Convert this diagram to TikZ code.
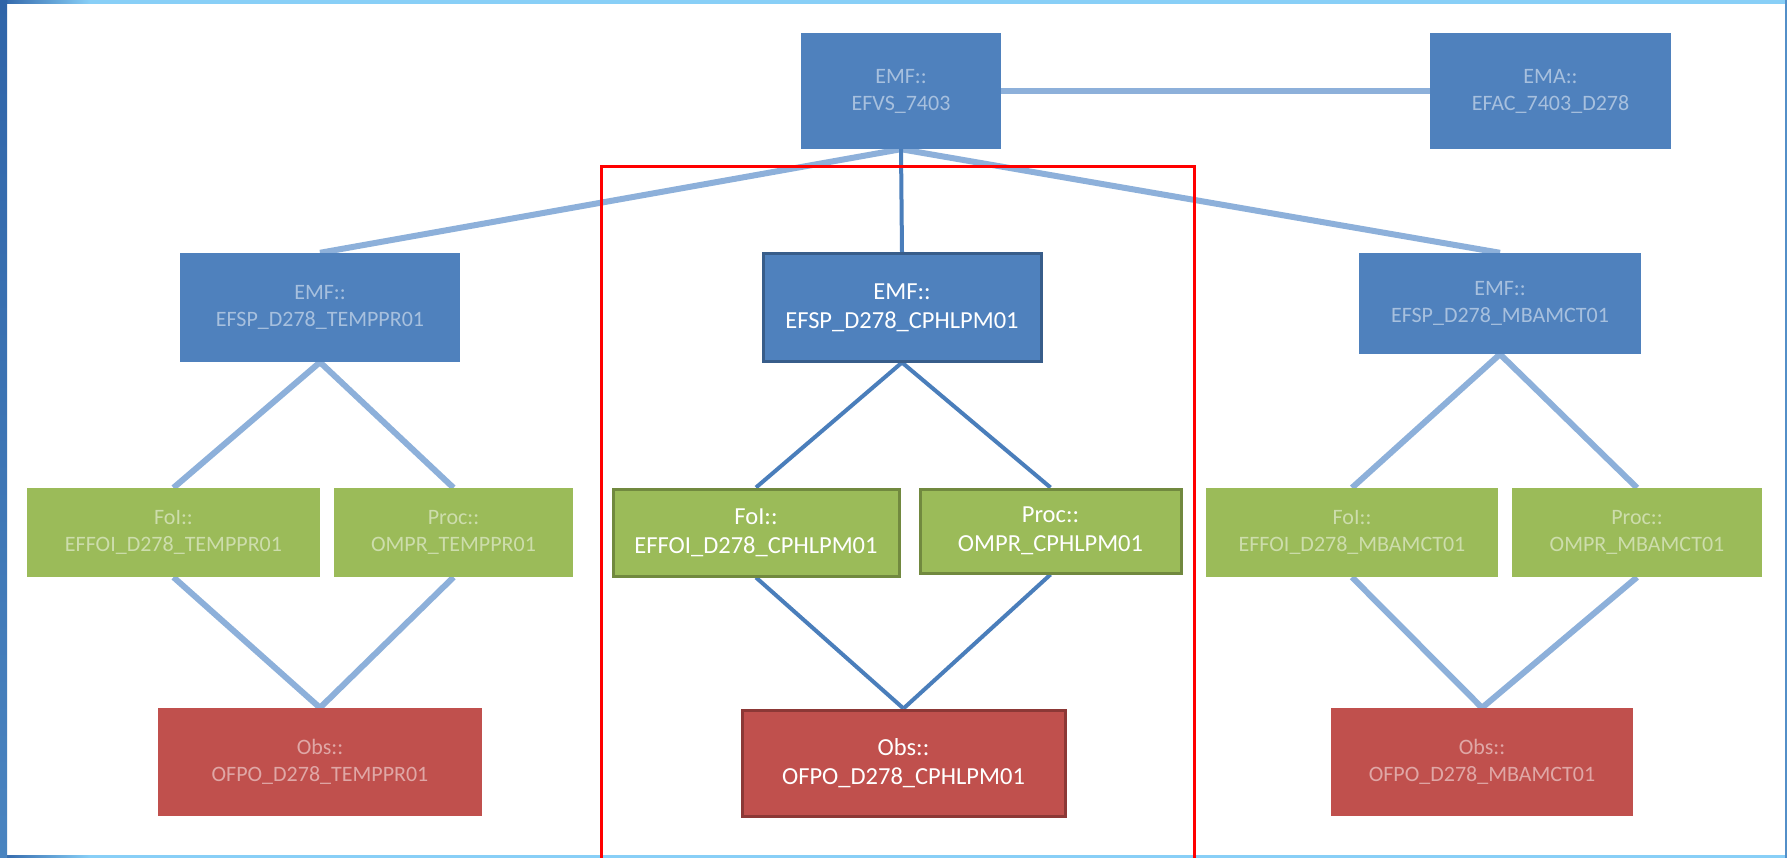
\documentclass[tikz,border=0pt]{standalone}
\usepackage{fontspec}
\setmainfont{Carlito}
\pgfdeclarelayer{frame}
\pgfdeclarelayer{lines}
\pgfsetlayers{frame,lines,main}
\definecolor{bxblue}{HTML}{4F81BD}
\definecolor{bxblueD}{HTML}{385D8A}
\definecolor{bxgreen}{HTML}{9BBB59}
\definecolor{bxgreenD}{HTML}{71893F}
\definecolor{bxred}{HTML}{C0504D}
\definecolor{bxredD}{HTML}{8C3836}
\definecolor{lnblue}{HTML}{4A7EBB}
\definecolor{lnblur}{HTML}{8DB0DA}
\definecolor{frdark}{HTML}{2F64A8}
\definecolor{frlight}{HTML}{88CFF7}
\tikzset{
  box/.style={rectangle, inner sep=0pt, align=center, text=white,
    font=\fontsize{24.5}{29}\selectfont},
  sharp/.style={box, line width=3pt},
  blurbox/.style={box, text opacity=0.5, font=\fontsize{22}{27}\selectfont},
  conn/.style={draw=lnblue, line width=4pt},
  blurconn/.style={draw=lnblur, line width=6pt},
}
\begin{document}
\begin{tikzpicture}[x=1pt,y=-1pt]
\useasboundingbox (0,0) rectangle (1787,858);
\begin{pgfonlayer}{frame}
  \fill[white] (0,0) rectangle (1787,858);
  \fill[frlight] (0,0) rectangle (1787,4);
  \fill[frlight] (0,855) rectangle (1787,858);
  \shade[left color=frdark, right color=frlight] (0,0) rectangle (90,4);
  \shade[left color=frdark, right color=frlight] (0,855) rectangle (90,858);
  \shade[top color=frdark, bottom color=frdark!70!frlight] (0,0) rectangle (7,858);
  \fill[frdark!60!frlight] (1785,0) rectangle (1787,858);
\end{pgfonlayer}

% blurred top level
\node[blurbox, fill=bxblue, minimum width=200, minimum height=116] (top) at (901,91) {EMF::\\EFVS\_7403};
\node[blurbox, fill=bxblue, minimum width=241, minimum height=116] (ema) at (1550.5,91) {EMA::\\EFAC\_7403\_D278};

% left blurred branch
\node[blurbox, fill=bxblue, minimum width=280, minimum height=109] (lemf) at (320,307.5) {EMF::\\EFSP\_D278\_TEMPPR01};
\node[blurbox, fill=bxgreen, minimum width=293, minimum height=89] (lfoi) at (173.5,532.5) {FoI::\\EFFOI\_D278\_TEMPPR01};
\node[blurbox, fill=bxgreen, minimum width=239, minimum height=89] (lproc) at (453.5,532.5) {Proc::\\OMPR\_TEMPPR01};
\node[blurbox, fill=bxred, minimum width=324, minimum height=108] (lobs) at (320,762) {Obs::\\OFPO\_D278\_TEMPPR01};

% right blurred branch
\node[blurbox, fill=bxblue, minimum width=282, minimum height=101] (remf) at (1500,303.5) {EMF::\\EFSP\_D278\_MBAMCT01};
\node[blurbox, fill=bxgreen, minimum width=292, minimum height=89] (rfoi) at (1352,532.5) {FoI::\\EFFOI\_D278\_MBAMCT01};
\node[blurbox, fill=bxgreen, minimum width=250, minimum height=89] (rproc) at (1637,532.5) {Proc::\\OMPR\_MBAMCT01};
\node[blurbox, fill=bxred, minimum width=302, minimum height=108] (robs) at (1482,762) {Obs::\\OFPO\_D278\_MBAMCT01};

% sharp center branch
\node[sharp, fill=bxblue, draw=bxblueD, minimum width=278, minimum height=107] (cemf) at (902,307.5) {EMF::\\EFSP\_D278\_CPHLPM01};
\node[sharp, fill=bxgreen, draw=bxgreenD, minimum width=286, minimum height=87] (cfoi) at (756,532.5) {FoI::\\EFFOI\_D278\_CPHLPM01};
\node[sharp, fill=bxgreen, draw=bxgreenD, minimum width=261, minimum height=84] (cproc) at (1050.5,531) {Proc::\\OMPR\_CPHLPM01};
\node[sharp, fill=bxred, draw=bxredD, minimum width=323, minimum height=106] (cobs) at (903.5,763) {Obs::\\OFPO\_D278\_CPHLPM01};

\begin{pgfonlayer}{lines}
  \draw[blurconn] (top.east) -- (ema.west);
  \draw[blurconn] (top.south) -- (lemf.north);
  \draw[blurconn] (top.south) -- (remf.north);
  \draw[blurconn] (lemf.south) -- (lfoi.north);
  \draw[blurconn] (lemf.south) -- (lproc.north);
  \draw[blurconn] (lfoi.south) -- (lobs.north);
  \draw[blurconn] (lproc.south) -- (lobs.north);
  \draw[blurconn] (remf.south) -- (rfoi.north);
  \draw[blurconn] (remf.south) -- (rproc.north);
  \draw[blurconn] (rfoi.south) -- (robs.north);
  \draw[blurconn] (rproc.south) -- (robs.north);
  \draw[conn] (top.south) -- (cemf.north);
  \draw[conn] (cemf.south) -- (cfoi.north);
  \draw[conn] (cemf.south) -- (cproc.north);
  \draw[conn] (cfoi.south) -- (cobs.north);
  \draw[conn] (cproc.south) -- (cobs.north);
\end{pgfonlayer}

% red highlight frame
\coordinate (rfbl) at (601,858);
\coordinate (rftl) at (601,167);
\coordinate (rftr) at (1194,167);
\coordinate (rfbr) at (1194,858);
\draw[red, line width=3pt] (rfbl) -- (rftl) -- (rftr) -- (rfbr);
\end{tikzpicture}
\end{document}
